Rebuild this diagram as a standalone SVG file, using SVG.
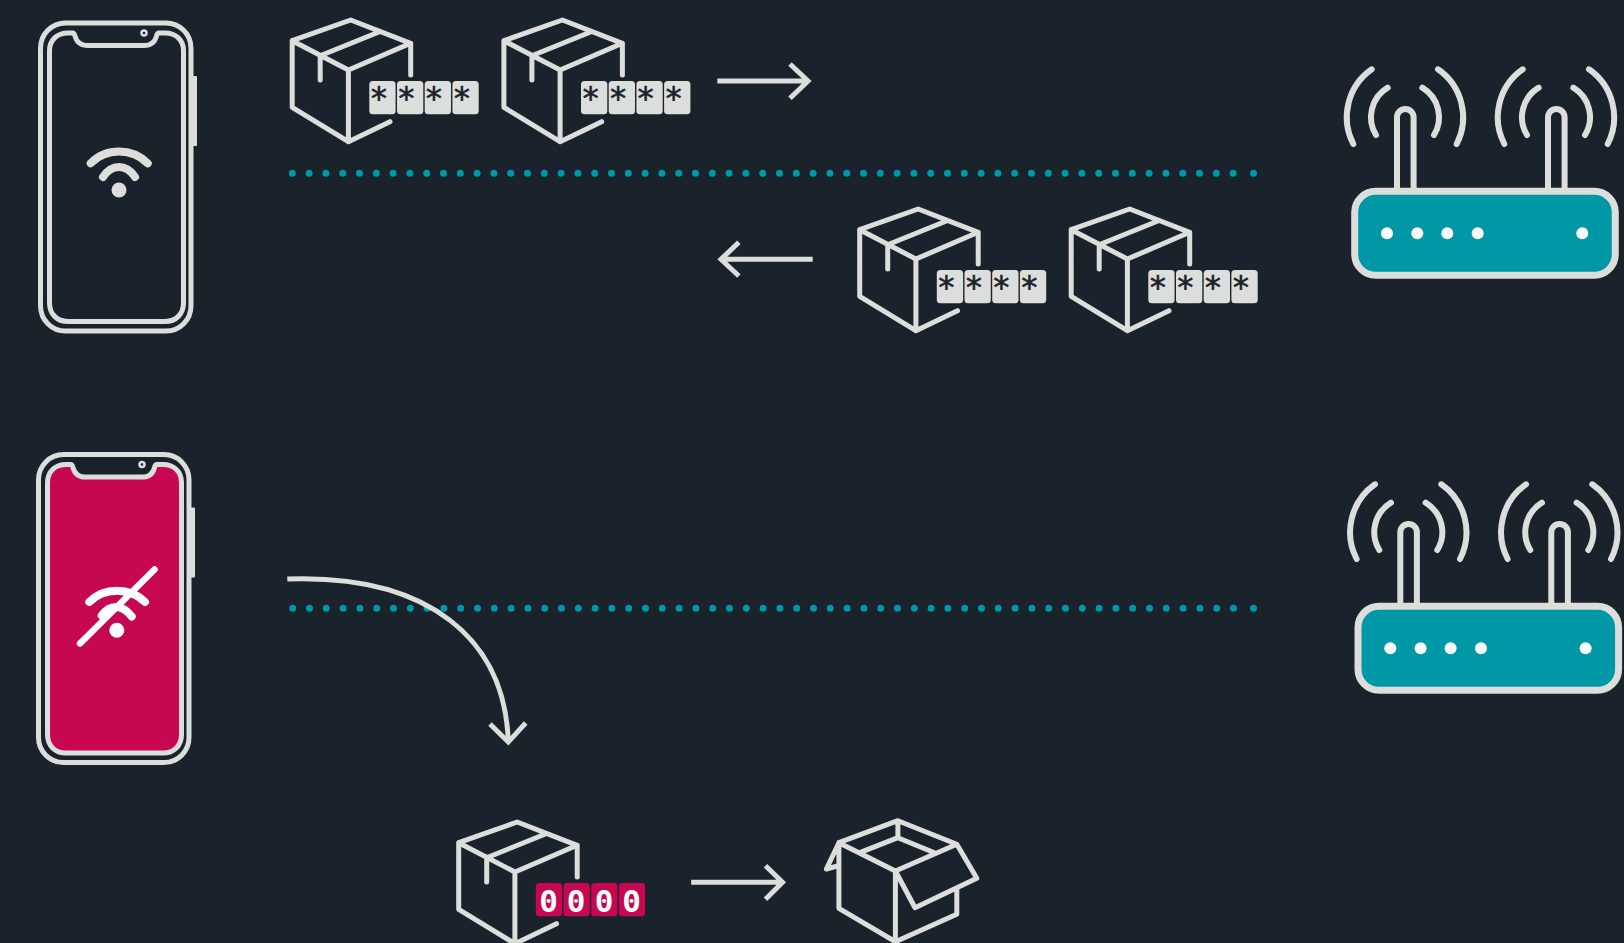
<svg xmlns="http://www.w3.org/2000/svg" width="1624" height="943" viewBox="0 0 1624 943">
<style>
.s{fill:none;stroke:#dcdedb;stroke-linecap:round;stroke-linejoin:round}
.b{stroke-width:5}
.dots{fill:none;stroke:#0097a7;stroke-width:7;stroke-linecap:round;stroke-dasharray:0 16.8}
.key{fill:#dcdedb}
.keyp{fill:#c70752}
.ast{font-family:"DejaVu Sans Mono",monospace;font-size:32px;fill:#1a222b;stroke:#1a222b;stroke-width:.6;text-anchor:middle}
.zero{font-family:"DejaVu Sans Mono",monospace;font-size:31px;font-weight:700;fill:#fff;text-anchor:middle}
.ar{fill:none;stroke:#dcdedb;stroke-width:5;stroke-linecap:butt;stroke-linejoin:miter}
.wifi{fill:none;stroke-width:8;stroke-linecap:round}
</style>
<defs>
<g id="box" class="s b">
<path d="M350.700 20L292.200 40.700V107.300L348.400 141.700V70L410.700 43.300ZM292.200 40.700L348.400 70M322 55L378.300 32.300M320.200 55V80M410.700 43.300V75M348.400 141.700L390 121.700"/>
</g>
<g id="keys">
<rect x="369.300" y="81" width="26.300" height="33.300" rx="3.500"/>
<rect x="397" y="81" width="26.300" height="33.300" rx="3.500"/>
<rect x="424.700" y="81" width="26.300" height="33.300" rx="3.500"/>
<rect x="452.400" y="81" width="26.300" height="33.300" rx="3.500"/>
</g>
<g id="asterisks">
<text class="ast" x="379" y="109.400">*</text><text class="ast" x="406.500" y="109.400">*</text><text class="ast" x="434" y="109.400">*</text><text class="ast" x="462" y="109.400">*</text>
</g>
<g id="phone">
<rect x="40.500" y="23" width="150.500" height="308" rx="25" fill="none" stroke="#dcdedb" stroke-width="5"/>
<path d="M70 33H72.500C74 33 74.500 34 75 36C76.500 42 81 45.500 88 45.500H144C151 45.500 155 42 156.500 36C157 34 157.500 33 159 33H165C176 33 183.500 40 183.500 51V303C183.500 314 176 321.500 165 321.500H68C57 321.500 49.500 314 49.500 303V51C49.500 40 57 33 68 33Z" stroke="#dcdedb" stroke-width="5"/>
<circle cx="144" cy="33" r="2.500" fill="none" stroke="#dcdedb" stroke-width="2.500"/>
<rect x="192" y="76" width="5" height="70" rx="1" fill="#dcdedb"/>
</g>
<g id="router">
<rect x="1354.700" y="191.300" width="260.600" height="84" rx="21" fill="#0097a7" stroke="#dcdedb" stroke-width="7"/>
<g class="s" stroke-width="6">
<path d="M1397 189V117.300a8.300 8.300 0 0 1 16.600 0V189M1548 189V117.300a8.300 8.300 0 0 1 16.600 0V189" stroke-linecap="butt"/>
<path d="M1371.700 69.300A58.500 58.500 0 0 0 1353.300 144M1387.700 87.700A34.300 34.300 0 0 0 1376 135M1438 69.300A58.500 58.500 0 0 1 1456.700 144M1422.300 87.700A34.300 34.300 0 0 1 1434 135"/>
<path d="M1522.700 69.300A58.500 58.500 0 0 0 1504.300 144M1538.700 87.700A34.300 34.300 0 0 0 1527 135M1589 69.300A58.500 58.500 0 0 1 1607.700 144M1573.300 87.700A34.300 34.300 0 0 1 1585 135"/>
</g>
<g fill="#fff">
<circle cx="1387" cy="233.300" r="6"/><circle cx="1417.300" cy="233.300" r="6"/><circle cx="1447.300" cy="233.300" r="6"/><circle cx="1477.700" cy="233.300" r="6"/><circle cx="1582.300" cy="233.300" r="6"/>
</g>
</g>
</defs>
<rect width="1624" height="943" fill="#1a222b"/>

<g id="phone-online">
<use href="#phone" fill="none"/>
<path class="wifi" stroke="#dcdedb" d="M90.700 163.300C106 147.600 132 147.600 147.700 163.300M103 177C112 163.700 126 163.700 135 177"/>
<circle cx="119" cy="190" r="7.500" fill="#dcdedb"/>
</g>

<g id="phone-offline">
<use href="#phone" x="-2" y="431.600" fill="#c70752"/>
<path class="wifi" stroke="#fff" d="M89.300 602C104 587 130 587 145 602M101.700 615.500C110 604 122 604 131.700 616.500"/>
<circle cx="116.800" cy="630.300" r="7.500" fill="#fff"/>
<path fill="none" stroke="#fff" stroke-width="6.500" stroke-linecap="round" d="M80 643.500L154.500 569.500"/>
</g>

<g id="connectors">
<path class="dots" d="M292.300 173.300H1235M1253.500 173.300h.01"/>
<path class="dots" d="M292.700 608.300H1235M1253.500 608.300h.01"/>
<path class="ar" d="M717.300 81H808M790 64L808 81L790 98.300"/>
<path class="ar" d="M812.700 259.300H721M738.900 242.300L721 259.300L738.900 276"/>
<path class="ar" d="M691.200 882.300H782.500M765.500 865.700L782.500 882.300L765.500 899.300"/>
<path class="ar" stroke-linecap="round" d="M287.300 579C430 574 505 640 508.300 742"/>
<path class="ar" stroke-width="5.500" d="M490 724L508.300 742L525.700 723"/>
</g>

<g id="packet-up-1"><use href="#box"/><use href="#keys" class="key"/><use href="#asterisks"/></g>
<g id="packet-up-2"><g transform="translate(211.700 0)"><use href="#box"/><use href="#keys" class="key"/><use href="#asterisks"/></g></g>
<g id="packet-down-1"><g transform="translate(567.500 189)"><use href="#box"/><use href="#keys" class="key"/><use href="#asterisks"/></g></g>
<g id="packet-down-2"><g transform="translate(779 189)"><use href="#box"/><use href="#keys" class="key"/><use href="#asterisks"/></g></g>
<g id="packet-plain"><g transform="translate(166.500 802)"><use href="#box"/><use href="#keys" class="keyp"/>
<text class="zero" x="382" y="110">0</text><text class="zero" x="409.500" y="110">0</text><text class="zero" x="437.500" y="110">0</text><text class="zero" x="465" y="110">0</text></g></g>

<g id="box-open" class="s b">
<path d="M897.900 820.700L838.900 842.700V908.300L895.400 941.700V871L956.800 844.300ZM838.900 842.700L895.400 871M897.900 820.700V837.700M860.400 852.300L897.900 837.700L935.700 853.300M895.400 871L915 907.700L976.800 878.300L956.800 844.300M956.800 888.300V914.300L895.400 941.700M838.900 842.700L826.400 869L838.900 865.700"/>
</g>

<g id="router-a"><use href="#router"/></g>
<g id="router-b"><use href="#router" x="3.300" y="415"/></g>
</svg>
